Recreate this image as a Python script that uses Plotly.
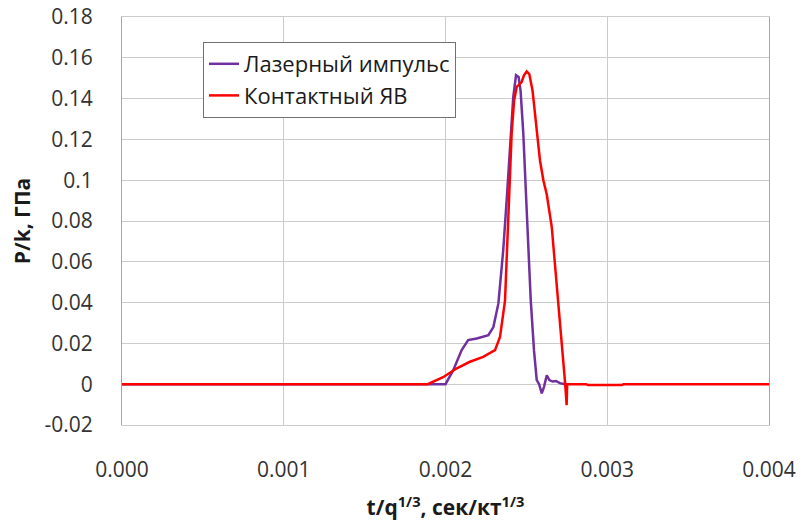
import plotly.graph_objects as go

# Laser pulse (purple)
t_laser = [0.0, 0.00200, 0.002048, 0.00210, 0.00214, 0.002193, 0.002265, 0.002296,
           0.002327, 0.002357, 0.002378, 0.00240, 0.002419, 0.002436, 0.002452,
           0.002464, 0.002481, 0.002502, 0.002527, 0.002547, 0.002564, 0.002579,
           0.002595, 0.002609, 0.002626, 0.002642, 0.002662, 0.002683, 0.002707, 0.00274]
p_laser = [0.0, 0.0, 0.0069, 0.0167, 0.0216, 0.0224, 0.0240, 0.0280,
           0.0396, 0.0657, 0.0900, 0.1147, 0.1408, 0.1515, 0.1506,
           0.1440, 0.1229, 0.0853, 0.0412, 0.0167, 0.0020, 0.0,
           -0.0045, -0.0013, 0.0044, 0.0020, 0.0013, 0.0016, 0.0005, 0.0]

# Contact explosion (red)
t_contact = [0.0, 0.00189, 0.001985, 0.00207, 0.002151, 0.002233, 0.002306, 0.002337,
             0.002368, 0.002388, 0.002409, 0.002424, 0.00244, 0.00247, 0.002486,
             0.002502, 0.002518, 0.002538, 0.002564, 0.002584, 0.002605, 0.002626,
             0.002657, 0.002688, 0.002719, 0.00274, 0.002749, 0.002752,
             0.00287, 0.00288, 0.00309, 0.00310, 0.004]
p_contact = [0.0, 0.0, 0.0034, 0.0078, 0.0110, 0.0134, 0.0167, 0.0232,
             0.0410, 0.0820, 0.1230, 0.1390, 0.1457, 0.1480, 0.1515,
             0.1533, 0.1520, 0.1440, 0.1260, 0.1098, 0.1000, 0.0930,
             0.0770, 0.0495, 0.0200, 0.0, -0.0103, 0.0,
             0.0, -0.0004, -0.0004, 0.0, 0.0]

y_ticks = [-0.02, 0, 0.02, 0.04, 0.06, 0.08, 0.1, 0.12, 0.14, 0.16, 0.18]
y_labels = ["-0.02", "0", "0.02", "0.04", "0.06", "0.08", "0.1", "0.12", "0.14", "0.16", "0.18"]
x_ticks = [0.0, 0.001, 0.002, 0.003, 0.004]
x_labels = ["0.000", "0.001", "0.002", "0.003", "0.004"]

fig = go.Figure()
fig.add_trace(go.Scatter(x=t_laser, y=p_laser, mode="lines", name="Лазерный импульс",
                         line=dict(color="#7030A0", width=2.5)))
fig.add_trace(go.Scatter(x=t_contact, y=p_contact, mode="lines", name="Контактный ЯВ",
                         line=dict(color="#FF0000", width=2.5)))

font = "Open Sans, Noto Sans, sans-serif"
fig.update_layout(
    width=809, height=520,
    margin=dict(l=114, r=48, t=9, b=103, autoexpand=False),
    paper_bgcolor="white", plot_bgcolor="white",
    font=dict(family=font, size=21, color="#333333"),
    showlegend=True,
    legend=dict(x=(195 - 114) / 647, y=(417 - 34) / 408, xanchor="left", yanchor="top",
                bordercolor="#707070", borderwidth=1, bgcolor="white",
                font=dict(size=22, color="#1a1a1a"), tracegroupgap=0),
    xaxis=dict(range=[0, 0.004], tickvals=x_ticks, ticktext=x_labels,
               showgrid=True, gridcolor="#cccccc", gridwidth=1, automargin=False,
               showline=True, linecolor="#cccccc", mirror=True, zeroline=False,
               ticks="", ticklabelstandoff=26, ticklabeloverflow="allow",
               title=dict(text="<b>t/q<sup>1/3</sup>, сек/кт<sup>1/3</sup></b>",
                          font=dict(size=21, color="#1a1a1a"), standoff=18)),
    yaxis=dict(range=[-0.02, 0.18], tickvals=y_ticks, ticktext=y_labels,
               showgrid=True, gridcolor="#cccccc", gridwidth=1, automargin=False,
               showline=True, linecolor="#a6a6a6", mirror=True, zeroline=False,
               ticks="", ticklabelstandoff=24, ticklabeloverflow="allow",
               title=dict(text="<b>P/k, ГПа</b>",
                          font=dict(size=21, color="#1a1a1a"), standoff=10)),
)
fig.write_html("out.html")
